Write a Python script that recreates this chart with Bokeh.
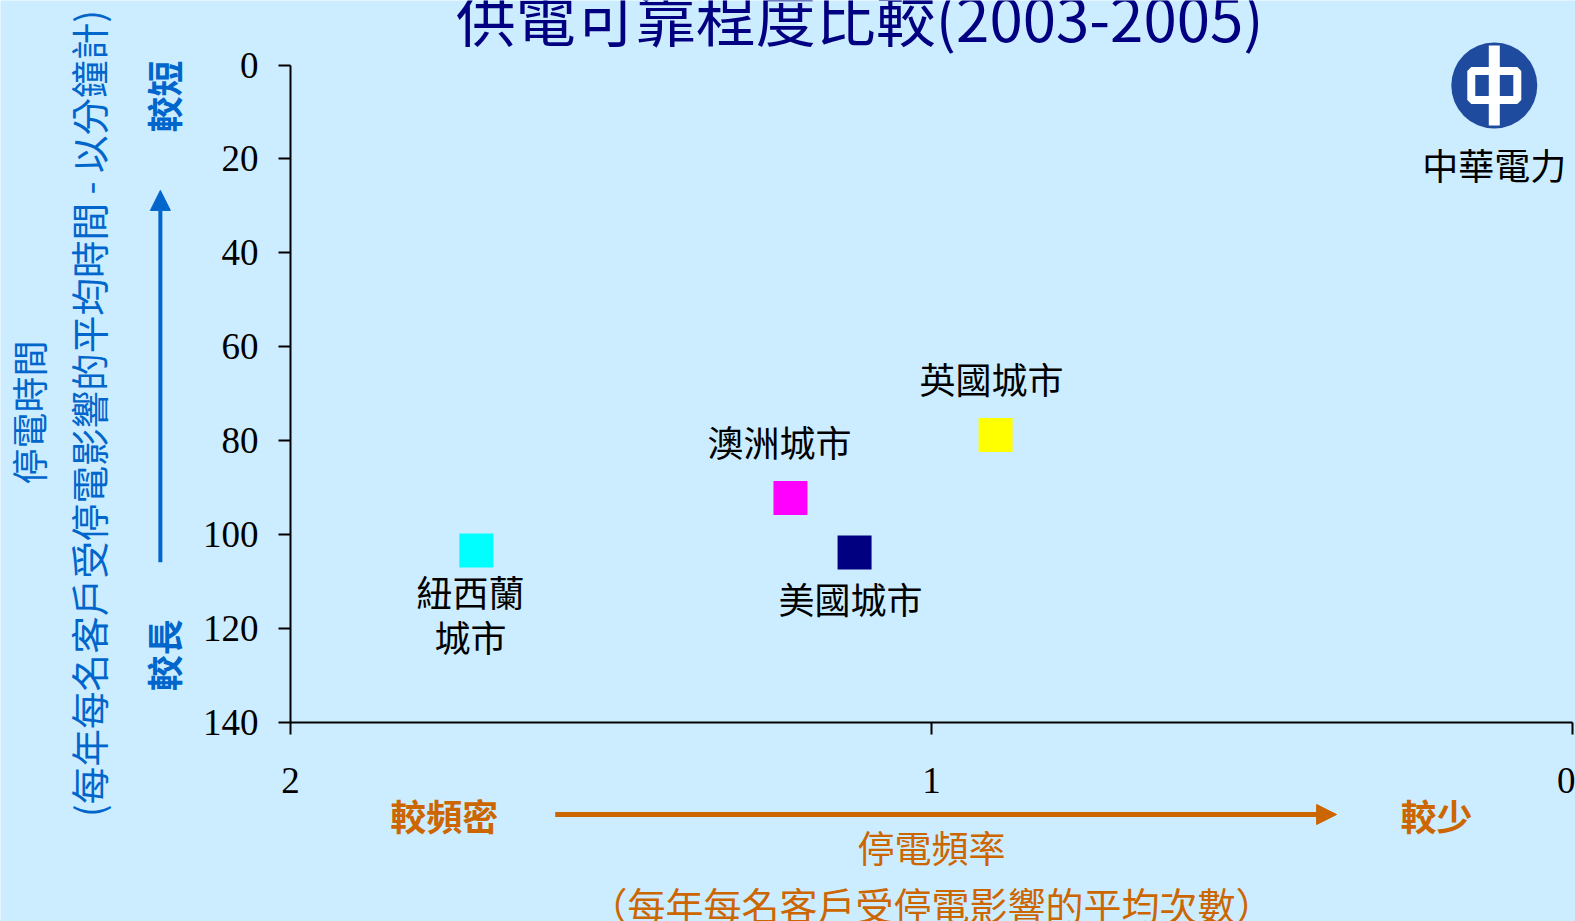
from math import pi
from bokeh.plotting import figure
from bokeh.models import Range1d, Label, Arrow, NormalHead, ColumnDataSource, FixedTicker
from bokeh.core.properties import value
from bokeh.embed import file_html
from bokeh.resources import INLINE

# ---- data ----
cities = ["紐西蘭\n城市", "澳洲城市", "美國城市", "英國城市"]
saifi = [1.71, 1.22, 1.12, 0.90]      # 停電頻率 (次/年)
saidi = [103.4, 92.2, 103.8, 78.8]    # 停電時間 (分鐘)
colors = ["#00FFFF", "#FF00FF", "#000080", "#FFFF00"]
x_ticks = [2, 1, 0]
y_ticks = [0, 20, 40, 60, 80, 100, 120, 140]

# label offsets (screen px)
dx = [-6, -11, -4, -4]
dy = [63, -57, 46, -57]

BG = "#CCECFF"
BLUE = "#0066CC"
ORANGE = "#CC6600"
CJK = "Noto Sans CJK TC"
SERIF = "Liberation Serif"

# visible data window (frame covers whole canvas; axes are fixed inside it)
X_LEFT, X_RIGHT = 2.4524, -0.0047
Y_TOP, Y_BOTTOM = -13.735, 182.38

p = figure(width=1575, height=921, output_backend="svg", toolbar_location=None,
           x_range=Range1d(X_LEFT, X_RIGHT), y_range=Range1d(Y_BOTTOM, Y_TOP),
           min_border=0, min_border_left=0, min_border_right=0,
           min_border_top=0, min_border_bottom=0,
           background_fill_color=BG, border_fill_color=BG, outline_line_color=None)
p.title.visible = False
p.grid.visible = False

p.xaxis.ticker = FixedTicker(ticks=x_ticks)
p.yaxis.ticker = FixedTicker(ticks=y_ticks)
p.xaxis.fixed_location = 140
p.yaxis.fixed_location = 2
p.xaxis.bounds = (0, 2)
p.yaxis.bounds = (0, 140)
for ax in (p.xaxis[0], p.yaxis[0]):
    ax.axis_line_color = "black"
    ax.axis_line_width = 2
    ax.major_tick_line_color = "black"
    ax.major_tick_line_width = 2
    ax.major_tick_in = 0
    ax.major_tick_out = 12
    ax.minor_tick_in = 0
    ax.minor_tick_out = 0
    ax.major_label_text_font = SERIF
    ax.major_label_text_font_size = "37px"
    ax.major_label_text_color = "black"
p.yaxis.major_label_standoff = 20
p.xaxis.major_label_standoff = 34

src = ColumnDataSource(dict(x=saifi, y=saidi, c=colors, name=cities, dx=dx, dy=dy))
p.scatter("x", "y", source=src, marker="square", size=34, fill_color="c", line_color=None)
p.text("x", "y", text="name", source=src, x_offset="dx", y_offset="dy",
       text_font=value(CJK), text_font_size="36px", text_align="center",
       text_baseline="middle", text_color="black", text_line_height=0.85)

# logo
LOGO = "#1F4B9E"
lx, ly = 0.122, 4.37
p.scatter([lx], [ly], marker="circle", size=86, fill_color=LOGO, line_color=None)
p.rect([lx], [ly], width=46, height=29, width_units="screen", height_units="screen",
       fill_color=LOGO, line_color="white", line_width=8)
p.rect([lx], [ly], width=11, height=80, width_units="screen", height_units="screen",
       fill_color="white", line_color=None)


def lab(text, x, y, size, color, bold=False, angle=0.0, font=CJK):
    p.add_layout(Label(x=x, y=y, text=text, text_font=font, text_font_size=size,
                       text_color=color, text_font_style="bold" if bold else "normal",
                       text_align="center", text_baseline="middle", angle=angle))


lab("供電可靠程度比較(2003-2005)", 1.112, -10.6, "60px", "#000080")
lab("中華電力", lx, 21.0, "36px", "black")

lab("停電時間", 2.409, 74.0, "36px", BLUE, angle=pi / 2)
lab("(每年每名客戶受停電影響的平均時間 - 以分鐘計)", 2.316, 74.2, "37.6px", BLUE, angle=pi / 2)
lab("較短", 2.199, 6.7, "36px", BLUE, bold=True, angle=pi / 2)
lab("較長", 2.199, 125.7, "36px", BLUE, bold=True, angle=pi / 2)

lab("較頻密", 1.760, 159.8, "36px", ORANGE, bold=True)
lab("較少", 0.212, 159.8, "36px", ORANGE, bold=True)
lab("停電頻率", 1.0, 166.6, "37px", ORANGE)
lab("（每年每名客戶受停電影響的平均次數）", 1.0, 178.6, "38px", ORANGE)

p.add_layout(Arrow(x_start=2.203, y_start=105.9, x_end=2.203, y_end=26.7,
                   line_color=BLUE, line_width=4,
                   end=NormalHead(size=20, fill_color=BLUE, line_color=BLUE)))
p.add_layout(Arrow(x_start=1.587, y_start=159.6, x_end=0.368, y_end=159.6,
                   line_color=ORANGE, line_width=5,
                   end=NormalHead(size=20, fill_color=ORANGE, line_color=ORANGE)))

open("out.html", "w").write(file_html(p, INLINE))
